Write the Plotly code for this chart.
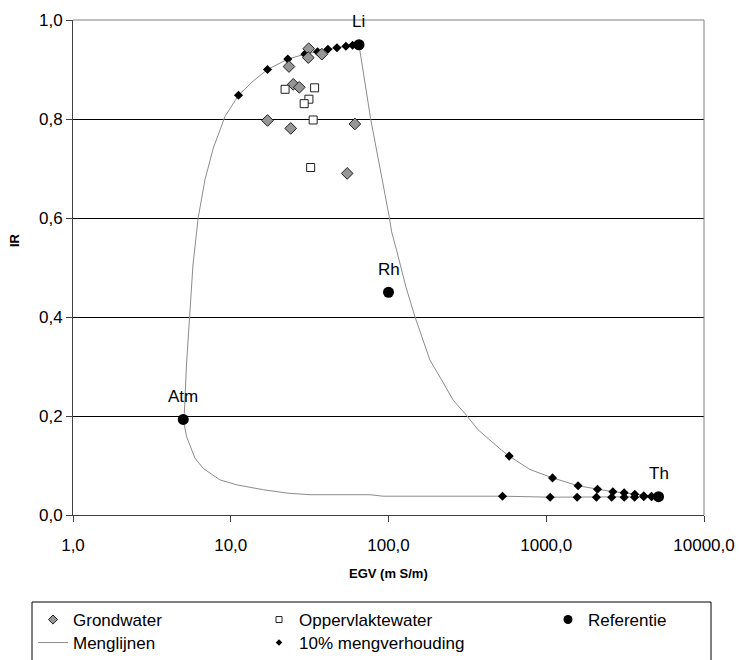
import numpy as np
import plotly.graph_objects as go

# ---------------- data ----------------
# Grondwater samples
gw_egv = [31.2, 31.0, 37.8, 23.4, 24.9, 27.2, 17.1, 24.0, 61.2, 54.7]
gw_ir = [0.942, 0.924, 0.931, 0.906, 0.870, 0.864, 0.797, 0.781, 0.790, 0.690]

# Oppervlaktewater samples
ow_egv = [22.1, 34.0, 31.3, 29.2, 33.3, 32.1]
ow_ir = [0.860, 0.863, 0.840, 0.831, 0.798, 0.702]

# Referentie (end members)
ref_names = ["Atm", "Li", "Rh", "Th"]
ref_egv = [5.0, 65.0, 100.0, 5150.0]
ref_ir = [0.193, 0.950, 0.450, 0.037]

# Menglijnen (mixing lines) Atm-Li, Li-Th, Atm-Th
atm_li_egv = [5.0, 5.08, 5.24, 5.46, 5.76, 6.22, 6.86, 7.75, 9.19, 11.2, 13.9, 17.1,
              23.0, 29.5, 35.5, 41.3, 47.1, 53.7, 59.2, 65.0]
atm_li_ir = [0.193, 0.205, 0.303, 0.400, 0.505, 0.601, 0.677, 0.741, 0.805, 0.848, 0.877, 0.900,
             0.921, 0.931, 0.936, 0.941, 0.944, 0.947, 0.949, 0.950]
li_th_egv = [65.0, 77.0, 101.0, 104.7, 112.5, 128.9, 147.0, 183.0, 217.0, 257.0, 313.0, 370.0,
             521.0, 582.0, 787.0, 1096.0, 1592.0, 2113.0, 2643.0, 3118.0, 3641.0, 4154.0, 4650.0, 5150.0]
li_th_ir = [0.950, 0.801, 0.603, 0.572, 0.535, 0.461, 0.401, 0.313, 0.273, 0.232, 0.201, 0.172,
            0.131, 0.119, 0.092, 0.075, 0.059, 0.052, 0.047, 0.045, 0.042, 0.039, 0.038, 0.037]
atm_th_egv = [5.0, 5.25, 5.93, 6.70, 8.54, 10.9, 16.1, 23.1, 31.8, 76.2, 92.0, 528.0,
              1059.0, 1570.0, 2080.0, 2600.0, 3120.0, 3630.0, 4150.0, 4650.0, 5150.0]
atm_th_ir = [0.193, 0.158, 0.115, 0.094, 0.071, 0.061, 0.051, 0.044, 0.041, 0.041, 0.038, 0.038,
             0.036, 0.036, 0.036, 0.036, 0.036, 0.036, 0.037, 0.037, 0.037]

# 10% mengverhouding points
mix_egv = [11.2, 17.1, 23.0, 29.5, 35.5, 41.3, 47.1, 53.7, 59.2,
           582.0, 1096.0, 1592.0, 2113.0, 2643.0, 3118.0, 3641.0, 4154.0, 4650.0,
           528.0, 1059.0, 1570.0, 2080.0, 2600.0, 3120.0, 3630.0, 4150.0, 4650.0]
mix_ir = [0.848, 0.900, 0.921, 0.931, 0.936, 0.941, 0.944, 0.947, 0.949,
          0.119, 0.075, 0.059, 0.052, 0.047, 0.045, 0.042, 0.039, 0.038,
          0.038, 0.036, 0.036, 0.036, 0.036, 0.036, 0.036, 0.037, 0.037]

x_tickvals = [1, 10, 100, 1000, 10000]
x_ticktext = ["1,0", "10,0", "100,0", "1000,0", "10000,0"]
y_tickvals = [0, 0.2, 0.4, 0.6, 0.8, 1.0]
y_ticktext = ["0,0", "0,2", "0,4", "0,6", "0,8", "1,0"]

# ---------------- figure ----------------
FONT = "Liberation Sans, Arial, sans-serif"
W, H = 739, 660
ML, MR, MT, MB = 73, 35, 20, 145
PW, PH = W - ML - MR, H - MT - MB


def px_x(p):
    return (p - ML) / PW


def px_y(p):
    return (H - MB - p) / PH


line_x = atm_li_egv + [None] + li_th_egv + [None] + atm_th_egv
line_y = atm_li_ir + [None] + li_th_ir + [None] + atm_th_ir

gw_marker = dict(symbol="diamond", size=9, color="#969696", line=dict(color="#202020", width=1))
ow_marker = dict(symbol="square", size=8, color="white", line=dict(color="#202020", width=1))
ref_marker = dict(symbol="circle", size=11, color="black")
mix_marker = dict(symbol="diamond", size=7, color="black")

fig = go.Figure()
fig.add_trace(go.Scatter(x=line_x, y=line_y, mode="lines", name="Menglijnen",
                         line=dict(color="#8c8c8c", width=1), legend="legend4",
                         hoverinfo="skip"))
fig.add_trace(go.Scatter(x=mix_egv, y=mix_ir, mode="markers", name="10% mengverhouding",
                         marker=mix_marker, showlegend=False))
fig.add_trace(go.Scatter(x=gw_egv, y=gw_ir, mode="markers", name="Grondwater",
                         marker=gw_marker, showlegend=False))
fig.add_trace(go.Scatter(x=ow_egv, y=ow_ir, mode="markers", name="Oppervlaktewater",
                         marker=ow_marker, showlegend=False))
fig.add_trace(go.Scatter(x=ref_egv, y=ref_ir, mode="markers", name="Referentie",
                         marker=ref_marker, showlegend=False))

# legend-only entries with smaller symbols, like the reference legend
fig.add_trace(go.Scatter(x=[None], y=[None], mode="markers", name="Grondwater",
                         marker=dict(gw_marker, size=7), legend="legend"))
fig.add_trace(go.Scatter(x=[None], y=[None], mode="markers", name="Oppervlaktewater",
                         marker=dict(ow_marker, size=6), legend="legend2"))
fig.add_trace(go.Scatter(x=[None], y=[None], mode="markers", name="Referentie",
                         marker=dict(ref_marker, size=9), legend="legend3"))
fig.add_trace(go.Scatter(x=[None], y=[None], mode="markers", name="10% mengverhouding",
                         marker=dict(mix_marker, size=5), legend="legend5"))

annotations = []
for n, xv, yv in zip(ref_names, ref_egv, ref_ir):
    annotations.append(dict(x=np.log10(xv), y=yv, xref="x", yref="y", text=n,
                            showarrow=False, yshift=23, xanchor="center", yanchor="middle",
                            font=dict(family=FONT, size=17, color="black")))
annotations.append(dict(x=0.5, y=px_y(573), xref="paper", yref="paper",
                        text="<b>EGV (m S/m)</b>", showarrow=False,
                        xanchor="center", yanchor="middle",
                        font=dict(family=FONT, size=13, color="black")))
annotations.append(dict(x=px_x(14), y=px_y(240), xref="paper", yref="paper",
                        text="<b>IR</b>", showarrow=False, textangle=-90,
                        xanchor="center", yanchor="middle",
                        font=dict(family=FONT, size=13, color="black")))

shapes = [
    dict(type="line", xref="paper", yref="paper", x0=0, x1=1, y0=1, y1=1,
         line=dict(color="#808080", width=1)),
    dict(type="line", xref="paper", yref="paper", x0=1, x1=1, y0=0, y1=1,
         line=dict(color="#808080", width=1)),
    dict(type="rect", xref="paper", yref="paper", x0=px_x(32), x1=px_x(711),
         y0=px_y(665), y1=px_y(602), line=dict(color="black", width=1),
         fillcolor="rgba(0,0,0,0)"),
]

leg_font = dict(family=FONT, size=17, color="black")


def leg(xp, yp):
    return dict(x=px_x(xp), y=px_y(yp), xanchor="left", yanchor="middle",
                bgcolor="rgba(0,0,0,0)", borderwidth=0, font=leg_font,
                orientation="v")


fig.update_layout(
    width=W, height=H,
    margin=dict(l=ML, r=MR, t=MT, b=MB, autoexpand=False),
    paper_bgcolor="white", plot_bgcolor="white",
    font=dict(family=FONT, size=17, color="black"),
    xaxis=dict(type="log", range=[0, 4], tickvals=x_tickvals, ticktext=x_ticktext,
               showgrid=False, zeroline=False, showline=True, linecolor="#404040",
               linewidth=1, ticks="outside", ticklen=6, tickcolor="#404040",
               ticklabelstandoff=9,
               tickfont=dict(family=FONT, size=17, color="black")),
    yaxis=dict(range=[0, 1], tickvals=y_tickvals, ticktext=y_ticktext,
               showgrid=True, gridcolor="black", gridwidth=1, zeroline=False,
               showline=True, linecolor="#404040", linewidth=1, ticks="outside",
               ticklen=6, tickcolor="#404040",
               tickfont=dict(family=FONT, size=17, color="black")),
    legend=leg(33, 620),
    legend2=leg(259, 620),
    legend3=leg(548, 620),
    legend4=leg(33, 643),
    legend5=leg(259, 643),
    annotations=annotations,
    shapes=shapes,
    showlegend=True,
)

fig.write_html("out.html")
